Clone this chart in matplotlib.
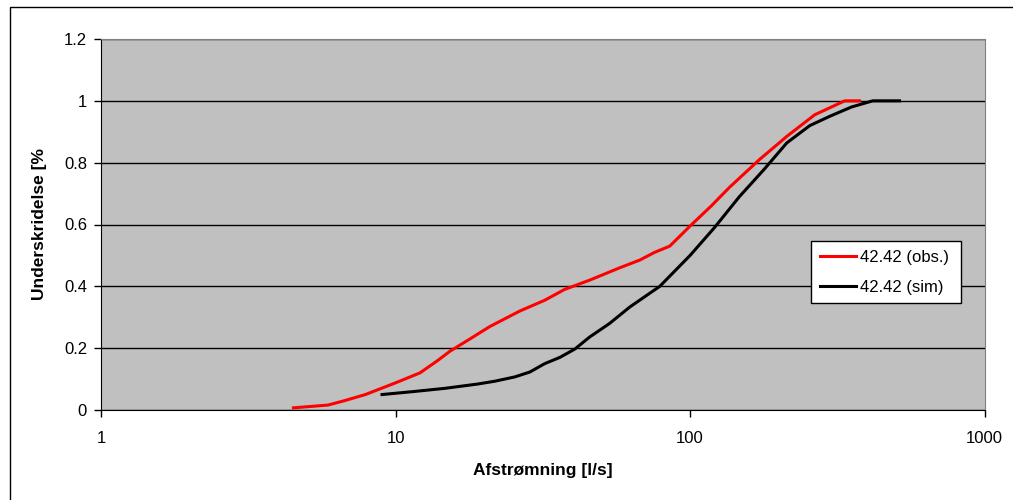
import matplotlib
matplotlib.use("Agg")
import matplotlib.pyplot as plt
from matplotlib.patches import Rectangle

plt.rcParams['font.family'] = ['Liberation Sans', 'DejaVu Sans']

obsX = [4.5, 5.9, 6.7, 7.9, 9.95, 12.1, 13.9, 15.3, 17.9, 20.9, 26.4, 32.1,
        37.5, 45.6, 57.7, 67.5, 75.8, 85.3, 100, 118, 136, 172, 213, 265, 335, 376]
obsY = [0.007, 0.016, 0.03, 0.05, 0.087, 0.12, 0.16, 0.19, 0.23, 0.27, 0.32, 0.355,
        0.39, 0.42, 0.46, 0.485, 0.51, 0.53, 0.595, 0.66, 0.72, 0.81, 0.885, 0.955, 1.0, 1.0]

# simulated series
simX = [9.0, 11.6, 14.7, 19.0, 21.7, 25.4, 28.6, 32.1, 36.1, 40.6, 45.6, 53.3,
        62.4, 78.9, 100, 121, 147, 179, 213, 255, 298, 353, 417, 514]
simY = [0.05, 0.06, 0.07, 0.084, 0.093, 0.107, 0.123, 0.15, 0.17, 0.197, 0.236, 0.28,
        0.333, 0.40, 0.50, 0.59, 0.69, 0.78, 0.864, 0.92, 0.95, 0.98, 1.0, 1.0]

yTicks = [0, 0.2, 0.4, 0.6, 0.8, 1, 1.2]
yTickLabels = ["0", "0.2", "0.4", "0.6", "0.8", "1", "1.2"]
xTicks = [1, 10, 100, 1000]
xTickLabels = ["1", "10", "100", "1000"]

fig = plt.figure(figsize=(10.13, 5.0), dpi=100)
ax = fig.add_axes([0.0997, 0.18, 0.8723, 0.742])
ax.set_facecolor("#c0c0c0")

# outer chart border (only left/top are inside the image)
fig.patches.append(Rectangle((10 / 1013, -0.1), 1.2, 1.1 - 7 / 500,
                             transform=fig.transFigure, fill=False,
                             edgecolor="black", lw=1))

ax.plot(obsX, obsY, '-', color="#ff0000", lw=2.2, label="42.42 (obs.)")
ax.plot(simX, simY, '-', color="black", lw=2.2, label="42.42 (sim)")

ax.set_xscale("log")
ax.set_xlim(1, 1000)
ax.set_ylim(0, 1.2)
ax.set_xticks(xTicks)
ax.set_xticklabels(xTickLabels)
ax.xaxis.set_minor_locator(matplotlib.ticker.NullLocator())
ax.set_yticks(yTicks)
ax.set_yticklabels(yTickLabels)
ax.tick_params(axis="both", direction="out", length=5, width=1,
               labelsize=12, colors="black")
ax.tick_params(axis="x", pad=10)
ax.tick_params(axis="y", pad=5)

ax.yaxis.grid(True, color="black", lw=1)
ax.set_axisbelow(True)

for side in ["top", "right"]:
    ax.spines[side].set_color("#808080")
for side in ["left", "bottom"]:
    ax.spines[side].set_color("black")

ax.set_xlabel("Afstrømning [l/s]", fontsize=12.5, fontweight="bold", labelpad=12)
ax.set_ylabel("Underskridelse [%", fontsize=12.5, fontweight="bold", labelpad=12)

leg = ax.legend(loc="lower left", bbox_to_anchor=(0.804, 0.288, 0.169, 0.165),
                mode="expand", fontsize=12, fancybox=False, framealpha=1,
                edgecolor="black", borderaxespad=0, handlelength=2.2,
                labelspacing=0.9, handletextpad=0.2, borderpad=0.5)
leg.get_frame().set_linewidth(1)

fig.savefig("out.png", dpi=100)
